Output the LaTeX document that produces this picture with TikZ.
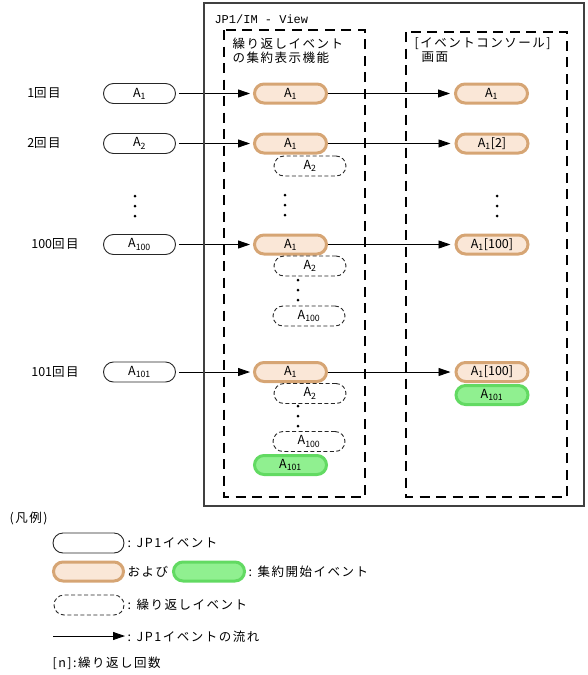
\documentclass[tikz,border=0pt]{standalone}
\usepackage{fontspec}
\setmainfont[LetterSpace=12]{Noto Sans CJK JP}
\newfontfamily\evfont{Noto Sans CJK JP}
\newfontfamily\monofont{Liberation Mono}
\usepackage{tikz}
\usetikzlibrary{arrows.meta}
\pgfdeclarelayer{bg}
\pgfsetlayers{bg,main}
\definecolor{aggfill}{HTML}{FAE7D7}
\definecolor{aggline}{HTML}{D6A574}
\definecolor{grnfill}{HTML}{90F090}
\definecolor{grnline}{HTML}{62DA62}
\newcommand{\ev}[1]{A\textsubscript{#1}}
\newcommand{\nth}[1]{{\evfont #1}回目}

\begin{document}
\begin{tikzpicture}[x=1pt,y=-1pt,
        every node/.style={font=\fontsize{12.5}{14}\selectfont},
        jp1/.style={draw=black!85, line width=0.9pt, rounded corners=10pt, minimum width=72pt,
                minimum height=20pt, inner sep=0pt, font=\evfont\fontsize{12.5}{12}\selectfont},
        agg/.style={jp1, draw=aggline, fill=aggfill, line width=3pt, rounded corners=9.5pt,
                minimum height=19pt},
        grn/.style={agg, draw=grnline, fill=grnfill},
        rep/.style={jp1, dash pattern=on 4pt off 2.5pt},
        flow/.style={line width=0.9pt, -{Triangle[length=12pt,width=8pt]}},
        dots/.style={fill=black},
        frame/.style={line width=2.2pt, dash pattern=on 10pt off 6.5pt}]
        \useasboundingbox (0,0) rectangle (588,675);
        % outer frame and the two parts
        \draw [draw=black!75, line width=1.2pt] (204,3) rectangle (584,506);
        \draw [frame] (224,30) rectangle (365,497);
        \draw [frame] (406,32) rectangle (567,497);
        \node (tv) [anchor=west, font=\monofont\fontsize{12}{12}\selectfont] at (211,19) {JP1/IM - View};
        \node (ta) [anchor=west, align=left] at (229,50.5) {繰り返しイベント\\の集約表示機能};
        \node (tc) [anchor=west, align=left] at (411,50.5) {[イベントコンソール]\\\hspace{7pt}画面};
        % rows
        \node (l1) at (44,93) {\nth1};
        \node (l2) at (44,143) {\nth2};
        \node (l100) at (55,244) {\nth{100}};
        \node (l101) at (55,372) {\nth{101}};
        \node (in1) [jp1] at (139.5,93.5) {\ev1};
        \node (in2) [jp1] at (139.5,143.5) {\ev2};
        \node (in100) [jp1] at (139.5,244.5) {\ev{100}};
        \node (in101) [jp1] at (139.5,372) {\ev{101}};
        \node (agg1) [agg] at (290.5,93.5) {\ev1};
        \node (agg2) [agg] at (290.5,143.5) {\ev1};
        \node (agg3) [agg] at (290.5,244.5) {\ev1};
        \node (agg4) [agg] at (290.5,372) {\ev1};
        \node (rep2) [rep] at (310,166) {\ev2};
        \node (rep3a) [rep] at (310,266) {\ev2};
        \node (rep3b) [rep] at (309,316) {\ev{100}};
        \node (rep4a) [rep] at (310,393.5) {\ev2};
        \node (rep4b) [rep] at (309,441.5) {\ev{100}};
        \node (grn4) [grn] at (290.5,465) {\ev{101}};
        \node (con1) [agg] at (491.5,93.5) {\ev1};
        \node (con2) [agg] at (492,143.5) {\ev1[2]};
        \node (con3) [agg] at (492,244.5) {\ev1[100]};
        \node (con4) [agg] at (492,372) {\ev1[100]};
        \node (cgrn) [grn] at (492,395) {\ev{101}};
        \foreach \x/\y in {135/196, 285/195, 497/196, 298/280, 298/406}
                \foreach \d in {0,10,20}
                        \fill [dots] (\x,\y+\d) circle (1.5pt);
        % legend
        \node (leg) [anchor=west] at (6,518) {(凡例)};
        \node (k1) [jp1, minimum width=71pt] at (88.5,543) {};
        \node (t1) [anchor=west] at (124,543) {: JP1イベント};
        \node (k2) [agg, minimum width=70pt] at (88.5,571.5) {};
        \node (t2) [anchor=west] at (124,571.5) {および};
        \node (k3) [grn, minimum width=71pt] at (209,571.5) {};
        \node (t3) [anchor=west] at (245,571.5) {: 集約開始イベント};
        \node (k4) [rep, minimum width=70pt] at (89,605) {};
        \node (t4) [anchor=west] at (124,605) {: 繰り返しイベント};
        \coordinate (f0) at (53,636);
        \coordinate (f1) at (125,636);
        \node (t5) [anchor=west] at (124,636.5) {: JP1イベントの流れ};
        \node (t6) [anchor=west] at (49,663) {[n]:繰り返し回数};
        \begin{pgfonlayer}{bg}
                \draw (in1) edge [flow, shorten <=3pt, shorten >=3pt] (agg1);
                \draw (in2) edge [flow, shorten <=3pt, shorten >=3pt] (agg2);
                \draw (in100) edge [flow, shorten <=3pt, shorten >=3pt] (agg3);
                \draw (in101) edge [flow, shorten <=3pt, shorten >=3pt] (agg4);
                \draw (agg1) edge [flow, shorten >=4pt] (con1);
                \draw (agg2) edge [flow, shorten >=4pt] (con2);
                \draw (agg3) edge [flow, shorten >=4pt] (con3);
                \draw (agg4) edge [flow, shorten >=4pt] (con4);
                \draw (f0) edge [flow] (f1);
        \end{pgfonlayer}
\end{tikzpicture}
\end{document}
